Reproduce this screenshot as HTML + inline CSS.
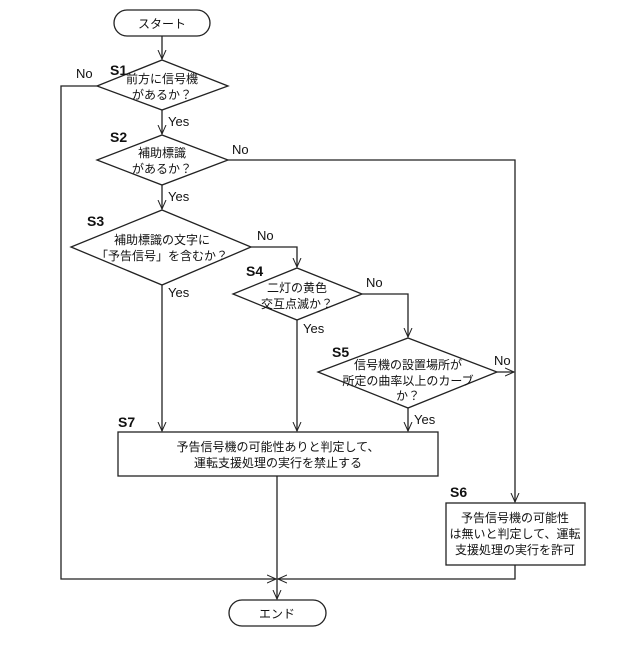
<!DOCTYPE html>
<html><head><meta charset="utf-8"><style>body{margin:0;background:#fff}</style></head><body>
<svg width="640" height="640" viewBox="0 0 640 640" xmlns="http://www.w3.org/2000/svg" font-family="'Liberation Sans','Noto Sans CJK JP',sans-serif" fill="none" stroke="#222" stroke-width="1.3">
<defs><marker id="a" markerWidth="10" markerHeight="10" refX="9" refY="5" orient="auto" markerUnits="userSpaceOnUse"><path d="M0,1 L9,5 L0,9" fill="none" stroke="#222" stroke-width="1"/></marker></defs>
<rect x="114" y="10" width="96" height="26" rx="13"/>
<rect x="229" y="600" width="97" height="26" rx="13"/>
<polygon points="162,60 228,86 162,110 97,86"/>
<polygon points="162,135 228,160 162,185 97,160"/>
<polygon points="162,210 251,247 162,285 71,247"/>
<polygon points="297,268 362,294 297,320 233,294"/>
<polygon points="408,338 497,372 408,408 318,372"/>
<rect x="118" y="432" width="320" height="44"/>
<rect x="446" y="503" width="139" height="62"/>
<line x1="162" y1="36" x2="162" y2="59" marker-end="url(#a)"/>
<line x1="162" y1="110" x2="162" y2="134" marker-end="url(#a)"/>
<line x1="162" y1="185" x2="162" y2="209" marker-end="url(#a)"/>
<line x1="162" y1="285" x2="162" y2="431" marker-end="url(#a)"/>
<line x1="297" y1="320" x2="297" y2="431" marker-end="url(#a)"/>
<line x1="408" y1="408" x2="408" y2="431" marker-end="url(#a)"/>
<polyline points="251,247 297,247 297,267" marker-end="url(#a)"/>
<polyline points="362,294 408,294 408,337" marker-end="url(#a)"/>
<line x1="497" y1="372" x2="514" y2="372" marker-end="url(#a)"/>
<polyline points="228,160 515,160 515,502" marker-end="url(#a)"/>
<polyline points="97,86 61,86 61,579 276,579" marker-end="url(#a)"/>
<polyline points="515,565 515,579 278,579" marker-end="url(#a)"/>
<line x1="277" y1="476" x2="277" y2="599" marker-end="url(#a)"/>
<g fill="#111" stroke="none" font-size="12" text-anchor="middle">
<text x="162" y="28">スタート</text>
<text x="277" y="618">エンド</text>
<text x="162" y="83">前方に信号機</text><text x="162" y="99">があるか？</text>
<text x="162" y="157">補助標識</text><text x="162" y="173">があるか？</text>
<text x="162" y="244">補助標識の文字に</text><text x="162" y="260">「予告信号」を含むか？</text>
<text x="297" y="292">二灯の黄色</text><text x="297" y="308">交互点滅か？</text>
<text x="408" y="369">信号機の設置場所が</text><text x="408" y="385">所定の曲率以上のカーブ</text><text x="408" y="400">か？</text>
<text x="278" y="451">予告信号機の可能性ありと判定して、</text><text x="278" y="467">運転支援処理の実行を禁止する</text>
<text x="515" y="522">予告信号機の可能性</text><text x="515" y="538">は無いと判定して、運転</text><text x="515" y="554">支援処理の実行を許可</text>
</g>
<g fill="#111" stroke="none" font-size="14" font-weight="bold">
<text x="110" y="75">S1</text><text x="110" y="142">S2</text><text x="87" y="226">S3</text><text x="246" y="276">S4</text><text x="332" y="357">S5</text><text x="118" y="427">S7</text><text x="450" y="497">S6</text>
</g>
<g fill="#111" stroke="none" font-size="13">
<text x="76" y="78">No</text><text x="232" y="154">No</text><text x="257" y="240">No</text><text x="366" y="287">No</text><text x="494" y="365">No</text>
<text x="168" y="126">Yes</text><text x="168" y="201">Yes</text><text x="168" y="297">Yes</text><text x="303" y="333">Yes</text><text x="414" y="424">Yes</text>
</g>
</svg>
</body></html>
